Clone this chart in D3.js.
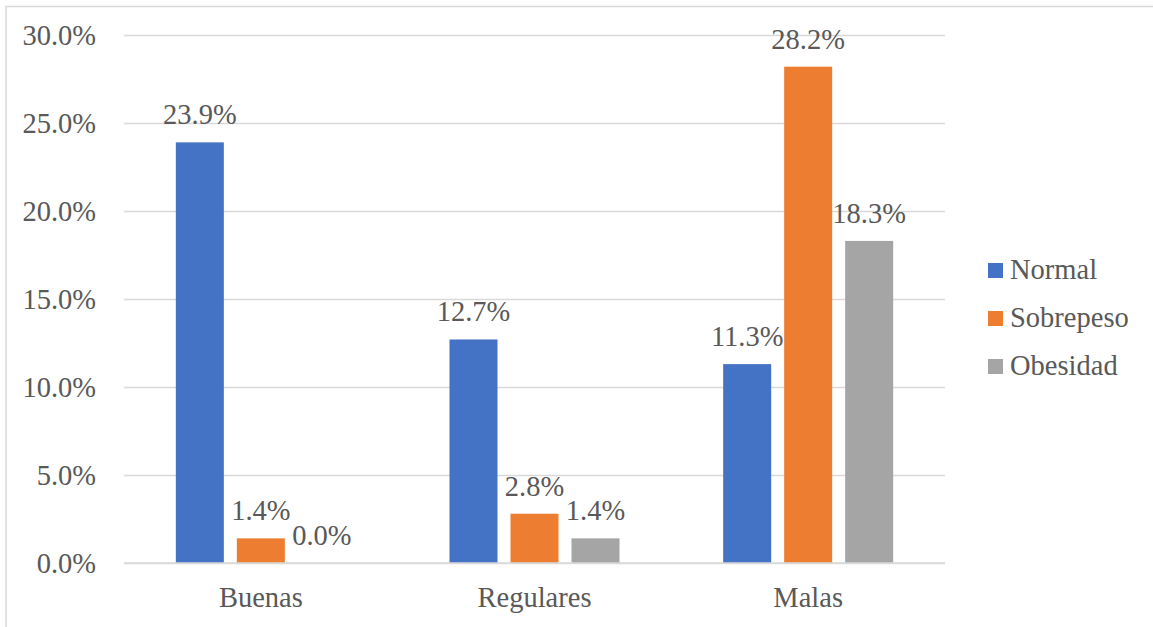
<!DOCTYPE html>
<html><head><meta charset="utf-8">
<script src="https://cdn.jsdelivr.net/npm/d3@7"></script>
<style>body{margin:0;background:#fff}svg{display:block}</style>
</head><body>
<svg id="c" width="1153" height="627"></svg>
<script>
const categories = ["Buenas", "Regulares", "Malas"];
const series = ["Normal", "Sobrepeso", "Obesidad"];
const normal = [23.9, 12.7, 11.3];
const sobrepeso = [1.4, 2.8, 28.2];
const obesidad = [0.0, 1.4, 18.3];
const yTicks = [0, 5, 10, 15, 20, 25, 30];
const colors = ["#4472C4", "#ED7D31", "#A5A5A5"];

(function () {
const values = [normal, sobrepeso, obesidad];
const svg = d3.select("#c");
const fs = 28.5;
const FONT = '"Liberation Serif"';
const TXT = "#595959";

// outer border (left + top)
svg.append("path").attr("d", "M6,627V6.5H1153").attr("fill", "none").attr("stroke", "#D9D9D9").attr("stroke-width", 1.5);

const pLeft = 124, pRight = 945, pTop = 35, pBottom = 563;
const y = d3.scaleLinear().domain([0, 30]).range([pBottom, pTop]);
const x0 = d3.scaleBand().domain(categories).range([pLeft, pRight]).padding(0);
const x1 = d3.scaleBand().domain(series).range([-85, 85]).paddingInner(0.213).paddingOuter(0);
const color = d3.scaleOrdinal().domain(series).range(colors);

// gridlines
const yAxis = d3.axisLeft(y).tickValues(yTicks).tickSize(-(pRight - pLeft)).tickFormat(d => d.toFixed(1) + "%").tickPadding(28);
const ga = svg.append("g").attr("transform", `translate(${pLeft},0)`).call(yAxis);
ga.select(".domain").remove();
ga.selectAll(".tick line").attr("stroke", "#D9D9D9").attr("stroke-width", 1.5);
ga.selectAll(".tick text").attr("font-size", fs).attr("fill", TXT).attr("dy", "0.34em")
  .style("font-family", FONT).style("font-size", fs + "px");

// bars
const groups = svg.append("g").selectAll("g").data(categories).join("g")
  .attr("transform", c => `translate(${x0(c) + x0.bandwidth() / 2},0)`);
groups.each(function (c, ci) {
  const g = d3.select(this);
  series.forEach((s, si) => {
    const v = values[si][ci];
    g.append("rect").attr("x", x1(s)).attr("width", x1.bandwidth())
      .attr("y", y(v)).attr("height", y(0) - y(v)).attr("fill", color(s));
    g.append("text").attr("x", x1(s) + x1.bandwidth() / 2).attr("y", y(v) - 18)
      .attr("text-anchor", "middle").attr("fill", TXT)
      .style("font-family", FONT).style("font-size", fs + "px").text(v.toFixed(1) + "%");
  });
});

// baseline
svg.append("line").attr("x1", pLeft).attr("x2", pRight).attr("y1", y(0)).attr("y2", y(0))
  .attr("stroke", "#D9D9D9").attr("stroke-width", 1.5);

// category labels
svg.append("g").selectAll("text").data(categories).join("text")
  .attr("x", c => x0(c) + x0.bandwidth() / 2).attr("y", 607)
  .attr("text-anchor", "middle").attr("fill", TXT)
  .style("font-family", FONT).style("font-size", fs + "px").text(c => c);

// legend
const lg = svg.append("g").selectAll("g").data(series).join("g")
  .attr("transform", (s, i) => `translate(988,${263 + i * 48})`);
lg.append("rect").attr("width", 15).attr("height", 15).attr("fill", s => color(s));
lg.append("text").attr("x", 22).attr("y", 16).attr("fill", TXT)
  .style("font-family", FONT).style("font-size", fs + "px").text(s => s);
})();
</script>
</body></html>
